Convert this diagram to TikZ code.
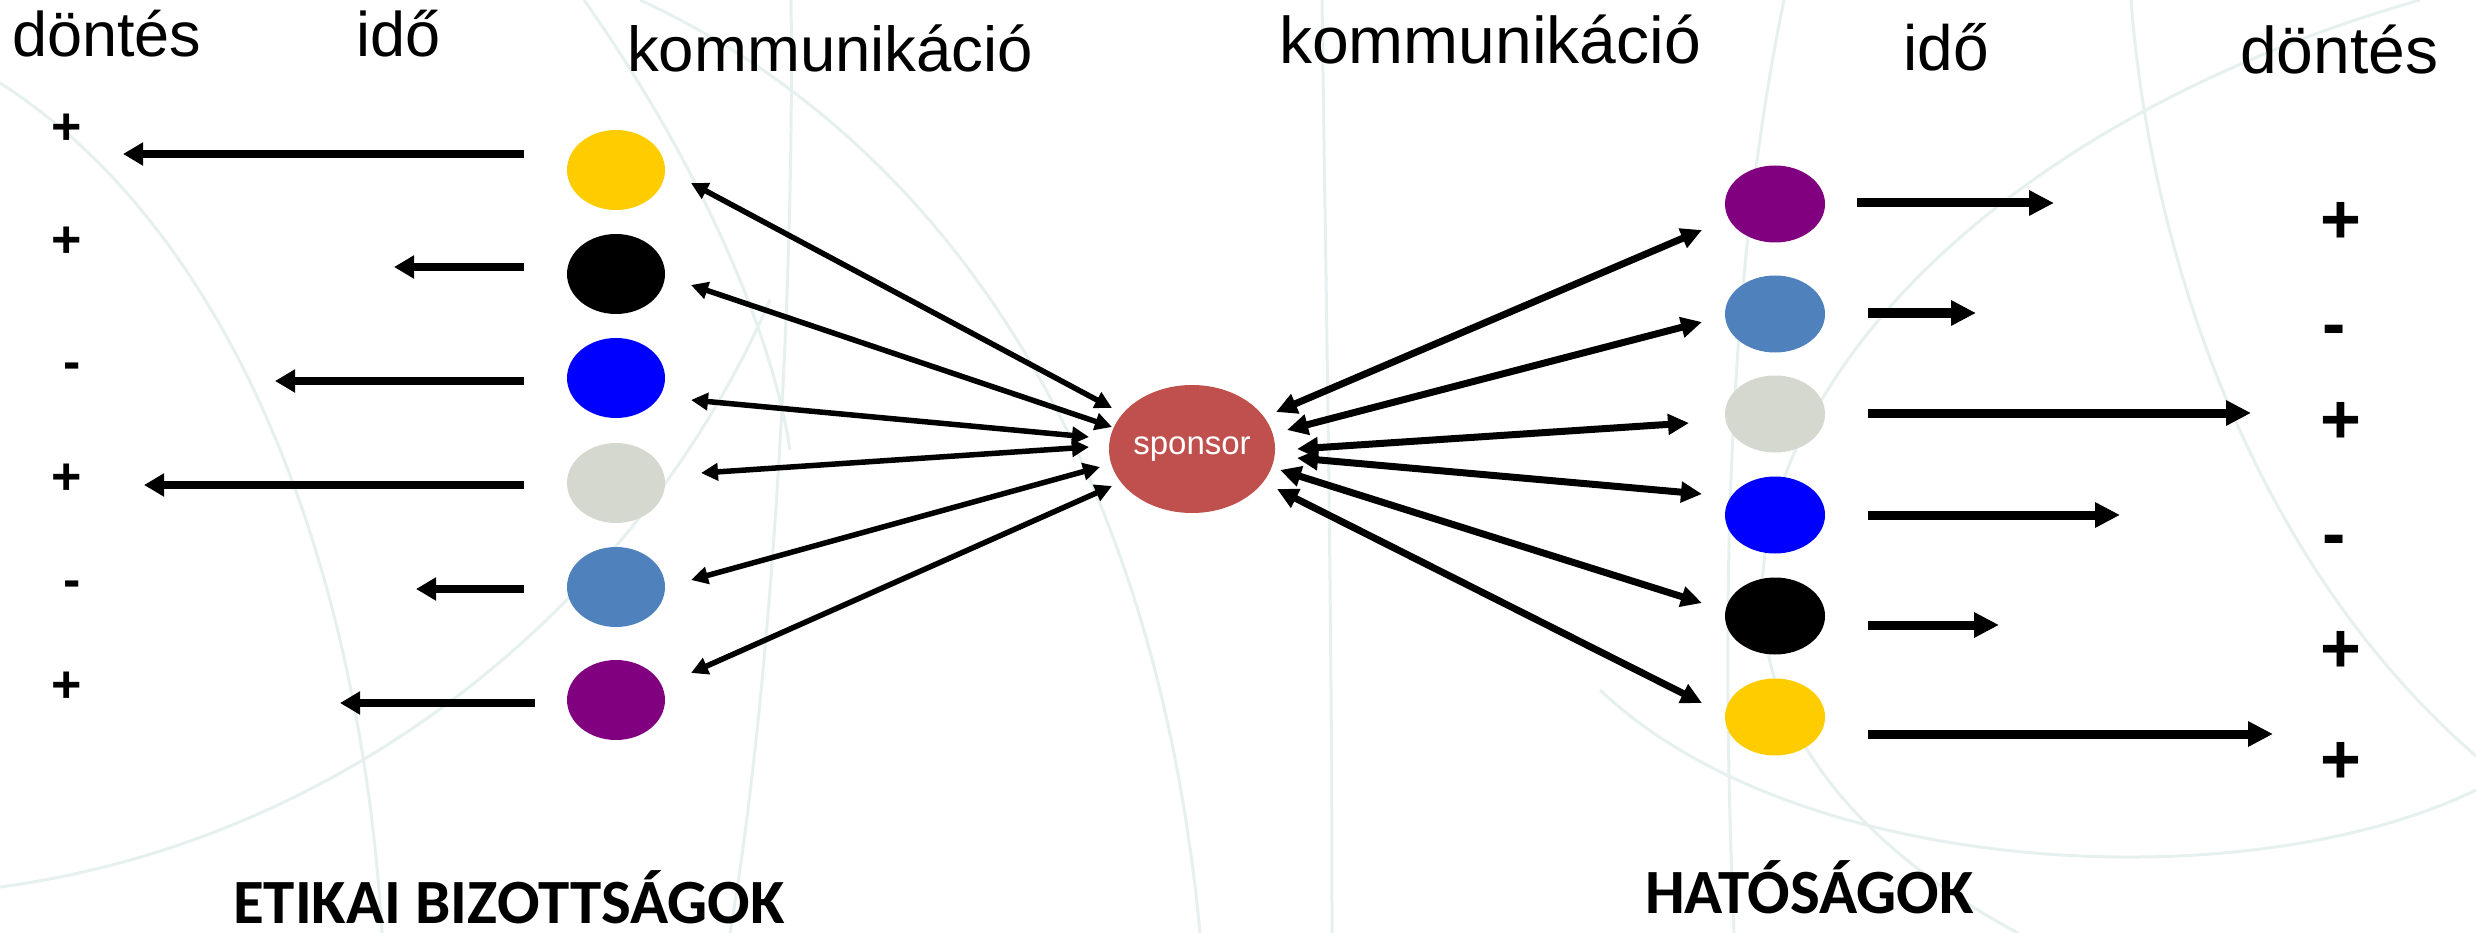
\documentclass[tikz,border=0pt]{standalone}
\usepackage{fontspec}
\setmainfont{Liberation Sans}
\newfontfamily\carlito{Carlito}
\usetikzlibrary{arrows.meta,calc,shapes.geometric}
\definecolor{cYe}{HTML}{FFCC00}
\definecolor{cBu}{HTML}{0000FF}
\definecolor{cGr}{HTML}{D5D8CF}
\definecolor{cLb}{HTML}{4F81BD}
\definecolor{cPu}{HTML}{800080}
\definecolor{cSp}{HTML}{C0504D}
\definecolor{bgc}{HTML}{E6F1EF}
\tikzset{
  ldot/.style={ellipse, inner sep=0pt, minimum width=98pt, minimum height=80pt},
  rdot/.style={ellipse, inner sep=0pt, minimum width=100pt, minimum height=77pt},
  hdr/.style={anchor=base west, inner sep=0pt},
  sgnL/.style={inner sep=0pt, font=\fontsize{52}{60}\selectfont\bfseries},
  sgnR/.style={inner sep=0pt, font=\fontsize{70}{80}\selectfont\bfseries},
  lbl/.style={anchor=base west, inner sep=0pt, font=\fontsize{63}{70}\selectfont\carlito\bfseries},
  harrowL/.style={line width=7.5pt, -{Triangle[length=20pt,width=22pt]}},
  harrowR/.style={line width=9pt, -{Triangle[length=25pt,width=24pt]}},
  dblL/.style={line width=5.5pt, {Triangle[length=17pt,width=17pt]}-{Triangle[length=17pt,width=17pt]}},
  dblR/.style={line width=7pt, {Triangle[length=21pt,width=20pt]}-{Triangle[length=21pt,width=20pt]}},
  bgarc/.style={draw=bgc, line width=3pt},
}
\begin{document}
\begin{tikzpicture}[x=1pt, y=-1pt]
\fill[white] (0,0) rectangle (2476,933);
\useasboundingbox (0,0) rectangle (2476,933);
% background arcs
\begin{scope}
\clip (0,0) rectangle (2476,933);
\draw[bgarc] (0,83) .. controls (230,230) and (360,560) .. (382,933);
\draw[bgarc] (584,0) .. controls (690,150) and (770,320) .. (790,450);
\draw[bgarc] (791,0) .. controls (795,300) and (770,700) .. (730,933);
\draw[bgarc] (640,0) .. controls (900,120) and (1150,400) .. (1200,933);
\draw[bgarc] (1322,0) .. controls (1326,300) and (1332,600) .. (1332,933);
\draw[bgarc] (0,887) .. controls (350,840) and (640,600) .. (770,300);
\draw[bgarc] (1784,0) .. controls (1722,300) and (1722,650) .. (1734,933);
\draw[bgarc] (2131,0) .. controls (2150,250) and (2250,560) .. (2476,756);
\draw[bgarc] (2420,0) .. controls (2000,120) and (1760,380) .. (1762,600) .. controls (1765,760) and (1900,870) .. (2018,933);
\draw[bgarc] (1600,690) .. controls (1800,880) and (2250,900) .. (2476,790);
\end{scope}
% headers
\node[hdr, font=\fontsize{63}{70}\selectfont] (hDL) at (12,57) {döntés};
\node[hdr, font=\fontsize{63}{70}\selectfont] (hIL) at (356,57) {idő};
\node[hdr, font=\fontsize{63.5}{70}\selectfont] (hKL) at (627,72) {kommunikáció};
\node[hdr, font=\fontsize{66}{72}\selectfont] (hKR) at (1279,64) {kommunikáció};
\node[hdr, font=\fontsize{64}{72}\selectfont] (hIR) at (1903,71) {idő};
\node[hdr, font=\fontsize{66}{72}\selectfont] (hDR) at (2240,74) {döntés};
% bottom labels
\node[lbl] (eb) at (233,923) {ETIKAI BIZOTTSÁGOK};
\node[lbl] (ha) at (1645,913) {HATÓSÁGOK};
% left dots
\node[ldot, fill=cYe] (lYe) at (616,170) {};
\node[ldot, fill=black] (lBk) at (616,274) {};
\node[ldot, fill=cBu] (lBu) at (616,378) {};
\node[ldot, fill=cGr] (lGr) at (616,483) {};
\node[ldot, fill=cLb] (lLb) at (616,587) {};
\node[ldot, fill=cPu] (lPu) at (616,700) {};
% right dots
\node[rdot, fill=cPu] (rPu) at (1775,204) {};
\node[rdot, fill=cLb] (rLb) at (1775,314) {};
\node[rdot, fill=cGr] (rGr) at (1775,414) {};
\node[rdot, fill=cBu] (rBu) at (1775,515) {};
\node[rdot, fill=black] (rBk) at (1775,616) {};
\node[rdot, fill=cYe] (rYe) at (1775,717) {};
% sponsor
\node[ellipse, fill=cSp, inner sep=0pt, minimum width=165pt, minimum height=128pt, text=white, font=\fontsize{33}{36}\selectfont] (sp) at (1192,449) {sponsor};
% signs left
\node[sgnL] (sL1) at (66.5,129) {+};
\node[sgnL] (sL2) at (66.5,242) {+};
\node[sgnL, anchor=base] (sL3) at (72.5,379.5) {-};
\node[sgnL] (sL4) at (66.5,479) {+};
\node[sgnL, anchor=base] (sL5) at (72.5,597.5) {-};
\node[sgnL] (sL6) at (66.5,687) {+};
% signs right
\node[sgnR] (sR1) at (2341,223) {+};
\node[sgnR, anchor=base] (sR2) at (2334,347) {-};
\node[sgnR] (sR3) at (2341,423) {+};
\node[sgnR, anchor=base] (sR4) at (2334,557) {-};
\node[sgnR] (sR5) at (2341,652) {+};
\node[sgnR] (sR6) at (2341,763) {+};
% arrow tip coordinates
\coordinate (tL1) at (123,154);
\coordinate (tL2) at (394,267);
\coordinate (tL3) at (275,381);
\coordinate (tL4) at (144,485);
\coordinate (tL5) at (416,589);
\coordinate (tL6) at (340,703);
\coordinate (tR1) at (2054,203);
\coordinate (tR2) at (1976,313);
\coordinate (tR3) at (2251,413);
\coordinate (tR4) at (2120,515);
\coordinate (tR5) at (1999,625);
\coordinate (tR6) at (2273,734);
% left horizontal arrows
\draw[harrowL] ($(lYe)+(-92,-16)$) -- (tL1);
\draw[harrowL] ($(lBk)+(-92,-7)$) -- (tL2);
\draw[harrowL] ($(lBu)+(-92,3)$) -- (tL3);
\draw[harrowL] ($(lGr)+(-92,2)$) -- (tL4);
\draw[harrowL] ($(lLb)+(-92,2)$) -- (tL5);
\draw[harrowL] ($(lPu)+(-81,3)$) -- (tL6);
% right horizontal arrows
\draw[harrowR] ($(rPu)+(82,-1)$) -- (tR1);
\draw[harrowR] ($(rLb)+(93,-1)$) -- (tR2);
\draw[harrowR] ($(rGr)+(93,-1)$) -- (tR3);
\draw[harrowR] ($(rBu)+(93,0)$) -- (tR4);
\draw[harrowR] ($(rBk)+(93,9)$) -- (tR5);
\draw[harrowR] ($(rYe)+(93,17)$) -- (tR6);
% left double arrows
\draw[dblL] ($(lYe)+(75,13)$) -- ($(sp)+(-80,-41)$);
\draw[dblL] ($(lBk)+(75,11)$) -- ($(sp)+(-80,-22)$);
\draw[dblL] ($(lBu)+(75,22)$) -- ($(sp)+(-103,-12)$);
\draw[dblL] ($(lGr)+(85,-10)$) -- ($(sp)+(-103,-2)$);
\draw[dblL] ($(lLb)+(75,-7)$) -- ($(sp)+(-92,18)$);
\draw[dblL] ($(lPu)+(75,-27)$) -- ($(sp)+(-80,37)$);
% right double arrows
\draw[dblR] ($(sp)+(84,-37)$) -- ($(rPu)+(-73,26)$);
\draw[dblR] ($(sp)+(95,-19)$) -- ($(rLb)+(-73,8)$);
\draw[dblR] ($(sp)+(105,0)$) -- ($(rGr)+(-86,9)$);
\draw[dblR] ($(sp)+(105,9)$) -- ($(rBu)+(-73,-21)$);
\draw[dblR] ($(sp)+(88,21)$) -- ($(rBk)+(-73,-13)$);
\draw[dblR] ($(sp)+(85,40)$) -- ($(rYe)+(-73,-14)$);
\end{tikzpicture}
\end{document}
